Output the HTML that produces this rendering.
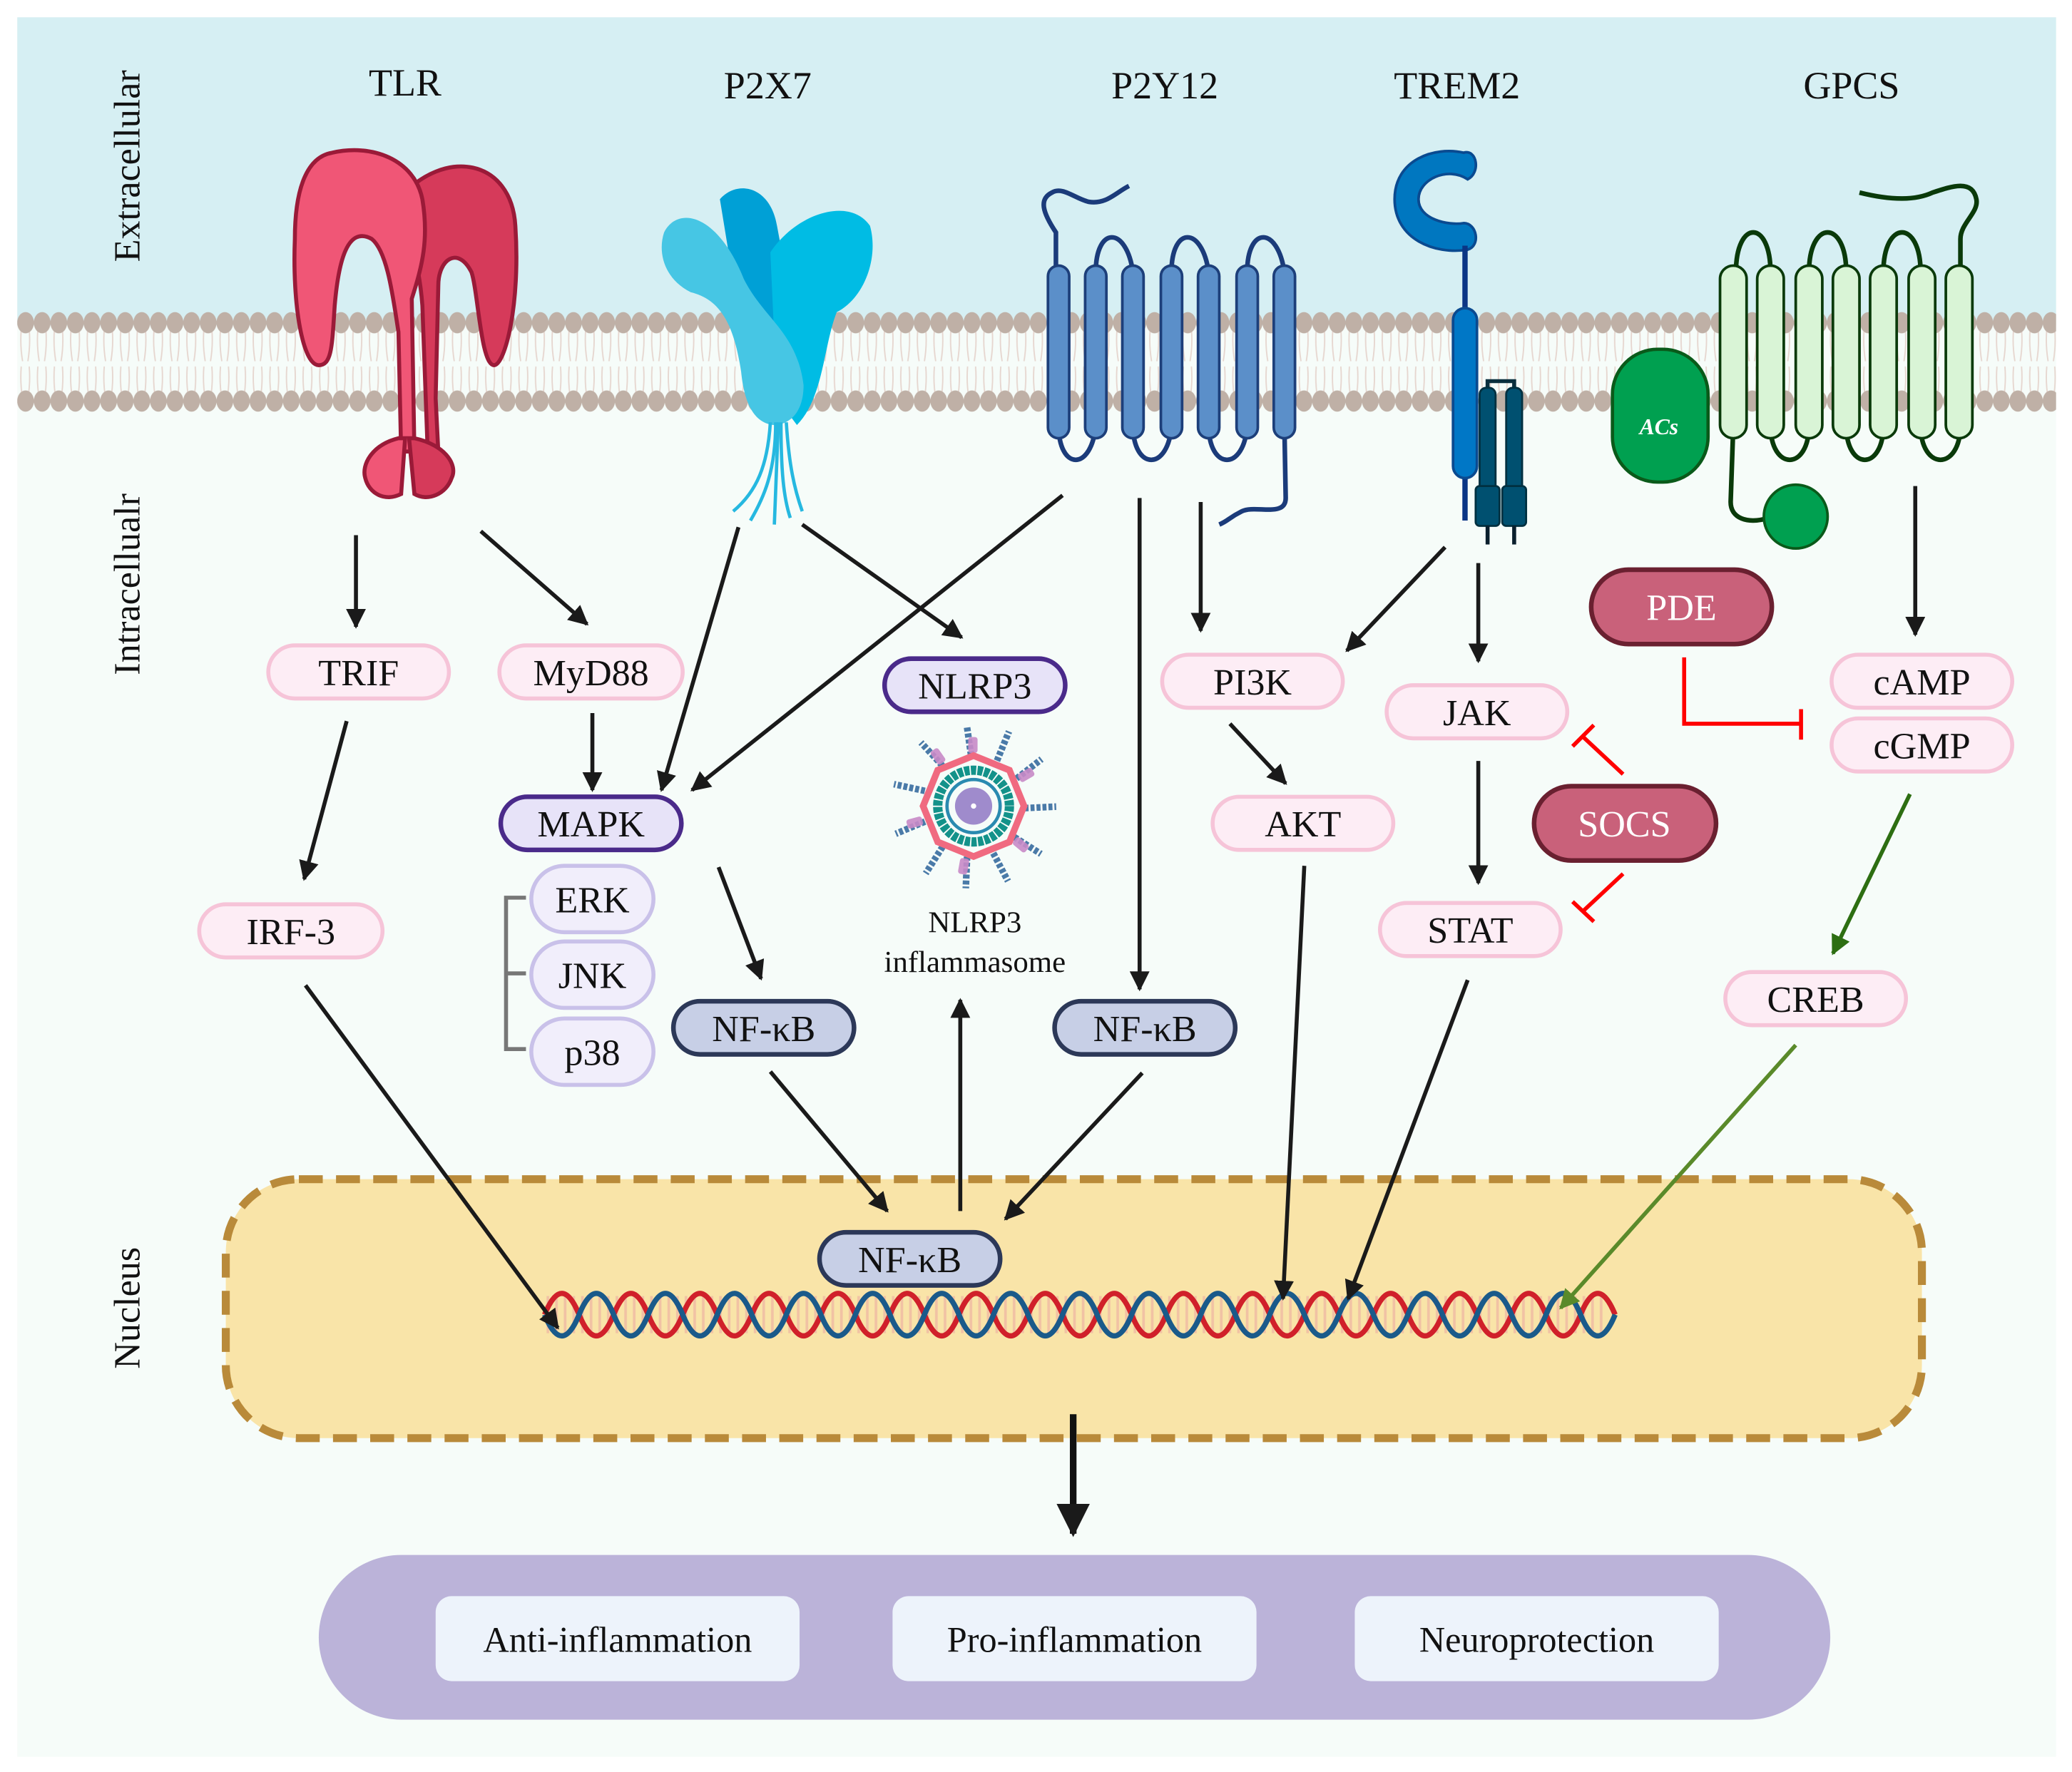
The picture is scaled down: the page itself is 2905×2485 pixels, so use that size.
<!DOCTYPE html>
<html><head><meta charset="utf-8"><style>
html,body{margin:0;padding:0;background:#fff}
svg{display:block}
text{font-family:"Liberation Serif",serif}
</style></head><body>
<svg width="2905" height="2485" viewBox="0 0 1560 1334.4" xmlns="http://www.w3.org/2000/svg" font-family="Liberation Serif, serif">
<defs>
<pattern id="heads1" x="13" y="233" width="12.5" height="20" patternUnits="userSpaceOnUse">
<ellipse cx="6.25" cy="10" rx="6.3" ry="8" fill="#bfb0a6"/></pattern>
<pattern id="heads2" x="13" y="292" width="12.5" height="20" patternUnits="userSpaceOnUse">
<ellipse cx="6.25" cy="10" rx="6.3" ry="8" fill="#bfb0a6"/></pattern>
<pattern id="tails" x="13" y="248" width="12.5" height="52" patternUnits="userSpaceOnUse">
<path d="M3,0 Q2,12 4,24 M9,0 Q10,12 8,24 M3,28 Q2,40 4,52 M9,28 Q10,40 8,52" stroke="#e6d6cf" stroke-width="1" fill="none"/></pattern>
<pattern id="rungs" x="0" y="0" width="6.5" height="40" patternUnits="userSpaceOnUse">
<rect x="2" y="0" width="2" height="40" fill="#e8a0a0"/></pattern>
<marker id="ah" viewBox="0 0 10 10" refX="9" refY="5" markerWidth="5" markerHeight="5" orient="auto"><path d="M0,0 L10,5 L0,10z" fill="#1a1a1a"/></marker>
<marker id="ahg" viewBox="0 0 10 10" refX="9" refY="5" markerWidth="5" markerHeight="5" orient="auto"><path d="M0,0 L10,5 L0,10z" fill="#2d6e12"/></marker>
<marker id="ahg2" viewBox="0 0 10 10" refX="9" refY="5" markerWidth="5" markerHeight="5" orient="auto"><path d="M0,0 L10,5 L0,10z" fill="#5a8a2a"/></marker>
</defs>
<rect x="13" y="13" width="1535" height="1310" fill="#f6fcf9"/>
<rect x="13" y="13" width="1535" height="232" fill="#d6eff3"/>
<!-- membrane -->
<rect x="13" y="248" width="1535" height="52" fill="url(#tails)"/>
<rect x="13" y="233" width="1535" height="20" fill="url(#heads1)"/>
<rect x="13" y="292" width="1535" height="20" fill="url(#heads2)"/>

<!-- side labels -->
<g font-size="28" fill="#111">
<text transform="translate(105,125) rotate(-90)" text-anchor="middle">Extracellular</text>
<text transform="translate(105,440) rotate(-90)" text-anchor="middle">Intracellualr</text>
<text transform="translate(105,985) rotate(-90)" text-anchor="middle">Nucleus</text>
</g>
<g font-size="29" fill="#111" text-anchor="middle">
<text x="305" y="72">TLR</text><text x="578" y="74">P2X7</text><text x="877" y="74">P2Y12</text><text x="1097" y="74">TREM2</text><text x="1394" y="74">GPCS</text>
</g>

<!-- TLR -->
<g stroke="#9a1a38" stroke-width="3">
<path d="M300,150 C335,110 385,120 388,170 C392,230 380,275 372,275 C362,275 360,220 355,205 C345,185 330,195 330,215 L328,300 L330,340 L322,340 L318,230 C315,190 305,175 300,150z" fill="#d63a5a"/>
<path d="M250,115 C280,108 312,120 318,150 C323,180 318,200 310,225 L312,340 L302,340 L300,250 C296,225 292,190 280,180 C262,170 255,195 252,230 C250,260 250,275 240,275 C228,275 220,230 222,180 C222,140 232,118 250,115z" fill="#f05676"/>
<path d="M300,330 C280,335 272,350 275,360 C278,372 290,378 302,372 L305,330z" fill="#f05676"/>
<path d="M312,330 C335,335 345,350 340,360 C336,372 322,378 312,372 L308,330z" fill="#d63a5a"/>
</g>

<!-- P2X7 -->
<g>
<path d="M542,150 C555,135 580,140 585,170 L598,240 L590,300 L560,260z" fill="#00a0d6"/>
<path d="M580,190 C600,160 640,148 655,170 C662,195 650,225 630,235 C620,260 620,300 600,320 L585,300z" fill="#00bce4"/>
<path d="M500,175 C510,155 540,160 560,210 C575,240 600,250 605,290 C605,310 595,320 582,320 C566,318 560,300 558,280 C552,240 540,225 520,220 C500,210 495,190 500,175z" fill="#46c6e4"/>
<g stroke="#26b8e0" stroke-width="2.5" fill="none">
<path d="M580,318 C578,350 570,370 552,385"/><path d="M584,318 C584,355 575,375 565,392"/><path d="M588,318 C588,355 590,375 595,390"/><path d="M592,318 C594,350 598,368 604,385"/><path d="M586,318 L583,395"/>
</g></g>

<!-- P2Y12 -->
<g stroke="#1b3b7a" stroke-width="3.5" fill="none">
<path d="M795,205 L795,175 C785,160 782,150 792,145 C800,140 810,150 820,152 C833,154 840,145 850,140"/>
<path d="M825,205 C825,170 848,170 853,205 M882,205 C882,170 905,170 910,205 M939,205 C939,170 962,170 967,205"/>
<path d="M797,320 C797,355 822,355 825,320 M853,320 C853,355 880,355 882,320 M910,320 C910,355 937,355 939,320"/>
<path d="M967,320 L968,375 C968,390 945,380 935,385 C925,390 925,392 918,395"/>
</g>
<g fill="#5b8fc9" stroke="#1d3f7a" stroke-width="2">
<rect x="789" y="200" width="16" height="130" rx="8"/><rect x="817" y="200" width="16" height="130" rx="8"/><rect x="845" y="200" width="16" height="130" rx="8"/><rect x="874" y="200" width="16" height="130" rx="8"/><rect x="902" y="200" width="16" height="130" rx="8"/><rect x="931" y="200" width="16" height="130" rx="8"/><rect x="959" y="200" width="16" height="130" rx="8"/>
</g>

<!-- TREM2 -->
<g>
<path d="M1102,115 C1112,112 1115,130 1105,135 C1090,125 1068,135 1068,150 C1068,165 1090,170 1102,168 C1112,168 1115,185 1105,188 C1080,192 1050,180 1050,150 C1050,120 1080,110 1102,115z" fill="#0077c0" stroke="#0a4a90" stroke-width="2"/>
<line x1="1103" y1="185" x2="1103" y2="392" stroke="#0a3585" stroke-width="4"/>
<rect x="1094" y="232" width="18" height="128" rx="9" fill="#0077c6" stroke="#0a4a90" stroke-width="2"/>
<path d="M1120,295 L1120,287 L1140,287 L1140,295" stroke="#0a2f3d" stroke-width="3" fill="none"/>
<rect x="1114" y="292" width="12" height="80" rx="5" fill="#005070" stroke="#003040" stroke-width="1.5"/>
<rect x="1134" y="292" width="12" height="80" rx="5" fill="#005070" stroke="#003040" stroke-width="1.5"/>
<rect x="1111" y="366" width="18" height="30" rx="3" fill="#005070" stroke="#003040" stroke-width="1.5"/>
<rect x="1131" y="366" width="18" height="30" rx="3" fill="#005070" stroke="#003040" stroke-width="1.5"/>
<line x1="1120" y1="396" x2="1120" y2="410" stroke="#0a1f2d" stroke-width="3"/>
<line x1="1140" y1="396" x2="1140" y2="410" stroke="#0a1f2d" stroke-width="3"/>
</g>

<!-- GPCS -->
<g stroke="#0a3a0a" stroke-width="3.5" fill="none">
<path d="M1307,205 C1307,165 1333,165 1333,205 M1362,205 C1362,165 1390,165 1390,205 M1418,205 C1418,165 1446,165 1446,205"/>
<path d="M1476,205 L1476,180 C1476,168 1490,160 1488,150 C1485,135 1470,140 1455,145 C1440,152 1420,150 1400,145"/>
<path d="M1333,320 C1333,355 1362,355 1362,320 M1390,320 C1390,355 1418,355 1418,320 M1446,320 C1446,355 1476,355 1476,320"/>
<path d="M1305,320 L1303,378 C1303,390 1315,395 1332,390"/>
</g>
<g fill="#d9f4d6" stroke="#0a3a0a" stroke-width="2">
<rect x="1295" y="200" width="20" height="130" rx="10"/><rect x="1323" y="200" width="20" height="130" rx="10"/><rect x="1352" y="200" width="20" height="130" rx="10"/><rect x="1380" y="200" width="20" height="130" rx="10"/><rect x="1408" y="200" width="20" height="130" rx="10"/><rect x="1437" y="200" width="20" height="130" rx="10"/><rect x="1465" y="200" width="20" height="130" rx="10"/>
</g>
<rect x="1214" y="263" width="72" height="100" rx="34" fill="#00a050" stroke="#0a5a1a" stroke-width="2.5"/>
<text x="1249" y="327" font-size="17" font-style="italic" font-weight="bold" fill="#fff" text-anchor="middle">ACs</text>
<ellipse cx="1352" cy="389" rx="24" ry="24" fill="#00a050" stroke="#0a5a1a" stroke-width="2"/>

<!-- NLRP3 inflammasome -->
<g transform="translate(733,607)">
<g stroke="#4a7aa8" stroke-width="5" stroke-dasharray="3 1.5">
<line x1="0" y1="-25" x2="-5" y2="-60"/><line x1="0" y1="-25" x2="-5" y2="-62" transform="rotate(30)"/><line x1="0" y1="-25" x2="-5" y2="-62" transform="rotate(60)"/><line x1="0" y1="-25" x2="-5" y2="-62" transform="rotate(95)"/><line x1="0" y1="-25" x2="-5" y2="-62" transform="rotate(130)"/><line x1="0" y1="-25" x2="-5" y2="-62" transform="rotate(160)"/><line x1="0" y1="-25" x2="-5" y2="-62" transform="rotate(190)"/><line x1="0" y1="-25" x2="-5" y2="-62" transform="rotate(220)"/><line x1="0" y1="-25" x2="-5" y2="-62" transform="rotate(255)"/><line x1="0" y1="-25" x2="-5" y2="-62" transform="rotate(290)"/><line x1="0" y1="-25" x2="-5" y2="-62" transform="rotate(325)"/>
</g>
<g fill="#c88ac8" opacity="0.9">
<rect x="-4" y="-52" width="7" height="12" rx="2"/><rect x="-4" y="-52" width="7" height="12" rx="2" transform="rotate(60)"/><rect x="-4" y="-52" width="7" height="12" rx="2" transform="rotate(130)"/><rect x="-4" y="-52" width="7" height="12" rx="2" transform="rotate(190)"/><rect x="-4" y="-52" width="7" height="12" rx="2" transform="rotate(255)"/><rect x="-4" y="-52" width="7" height="12" rx="2" transform="rotate(325)"/>
</g>
<polygon points="0,-38 27,-27 38,0 27,27 0,38 -27,27 -38,0 -27,-27" fill="#f6fcf9" stroke="#f06a80" stroke-width="5"/>
<circle r="27" fill="none" stroke="#13928a" stroke-width="7" stroke-dasharray="4 1"/>
<circle r="20" fill="#f6fcf9" stroke="#2a8ab0" stroke-width="2.5"/>
<circle r="14" fill="#8a6ec0" opacity="0.8"/>
<circle r="2" fill="#fff"/>
</g>
<text x="734" y="702" font-size="23" text-anchor="middle" fill="#111">NLRP3</text>
<text x="734" y="732" font-size="23" text-anchor="middle" fill="#111">inflammasome</text>

<!-- Nucleus -->
<rect x="170" y="888" width="1277" height="195" rx="55" fill="#f9e4a8" stroke="#b98a3a" stroke-width="6" stroke-dasharray="18 10"/>
<rect x="410" y="976" width="798" height="28" fill="url(#rungs)" opacity="0.5"/>
<path d="M410,990 q13,-32 26,0 t26,0 t26,0 t26,0 t26,0 t26,0 t26,0 t26,0 t26,0 t26,0 t26,0 t26,0 t26,0 t26,0 t26,0 t26,0 t26,0 t26,0 t26,0 t26,0 t26,0 t26,0 t26,0 t26,0 t26,0 t26,0 t26,0 t26,0 t26,0 t26,0 t26,0" stroke="#d0202a" stroke-width="4" fill="none"/>
<path d="M410,990 q13,32 26,0 t26,0 t26,0 t26,0 t26,0 t26,0 t26,0 t26,0 t26,0 t26,0 t26,0 t26,0 t26,0 t26,0 t26,0 t26,0 t26,0 t26,0 t26,0 t26,0 t26,0 t26,0 t26,0 t26,0 t26,0 t26,0 t26,0 t26,0 t26,0 t26,0 t26,0" stroke="#1a5a8a" stroke-width="4" fill="none"/>

<!-- arrows -->
<g stroke="#1a1a1a" stroke-width="3" fill="none" marker-end="url(#ah)">
<line x1="268" y1="403" x2="268" y2="472"/>
<line x1="362" y1="400" x2="442" y2="470"/>
<line x1="446" y1="537" x2="446" y2="595"/>
<line x1="261" y1="543" x2="229" y2="662"/>
<line x1="556" y1="397" x2="498" y2="595"/>
<line x1="800" y1="373" x2="521" y2="595"/>
<line x1="604" y1="395" x2="724" y2="480"/>
<line x1="858" y1="375" x2="858" y2="745"/>
<line x1="904" y1="378" x2="904" y2="475"/>
<line x1="926" y1="545" x2="968" y2="590"/>
<line x1="1088" y1="412" x2="1014" y2="490"/>
<line x1="1113" y1="424" x2="1113" y2="498"/>
<line x1="1113" y1="573" x2="1113" y2="665"/>
<line x1="1442" y1="366" x2="1442" y2="478"/>
<line x1="541" y1="653" x2="573" y2="737"/>
<line x1="230" y1="742" x2="420" y2="1000"/>
<line x1="580" y1="807" x2="668" y2="912"/>
<line x1="860" y1="808" x2="757" y2="918"/>
<line x1="723" y1="912" x2="723" y2="753"/>
<line x1="982" y1="652" x2="966" y2="978"/>
<line x1="1105" y1="738" x2="1015" y2="978"/>
</g>
<line x1="1438" y1="598" x2="1380" y2="718" stroke="#2d6e12" stroke-width="3" marker-end="url(#ahg)"/>
<line x1="1352" y1="787" x2="1175" y2="985" stroke="#5a8a2a" stroke-width="3" marker-end="url(#ahg2)"/>
<line x1="808" y1="1065" x2="808" y2="1155" stroke="#111" stroke-width="5" marker-end="url(#ah)"/>
<!-- inhibitors -->
<g stroke="#f00" stroke-width="3" fill="none">
<path d="M1268,495 L1268,545 L1356,545 M1356,534 L1356,557"/>
<path d="M1222,583 L1192,555 M1184,562 L1200,546"/>
<path d="M1222,658 L1192,686 M1184,679 L1200,694"/>
</g>
<!-- bracket -->
<path d="M396,676 L381,676 L381,790 L396,790 M381,733 L396,733" stroke="#777" stroke-width="3" fill="none"/>

<!-- nodes -->
<g font-size="28" text-anchor="middle" fill="#111">
<g fill="#fdedf5" stroke="#f6c4d8" stroke-width="3">
<rect x="202" y="486" width="136" height="40" rx="20"/>
<rect x="376" y="486" width="138" height="40" rx="20"/>
<rect x="150" y="681" width="138" height="40" rx="20"/>
<rect x="875" y="493" width="136" height="40" rx="20"/>
<rect x="913" y="600" width="136" height="40" rx="20"/>
<rect x="1044" y="516" width="136" height="40" rx="20"/>
<rect x="1039" y="680" width="136" height="40" rx="20"/>
<rect x="1379" y="493" width="136" height="40" rx="20"/>
<rect x="1379" y="541" width="136" height="40" rx="20"/>
<rect x="1299" y="732" width="136" height="40" rx="20"/>
</g>
<g fill="#e7e3f8" stroke="#4a2a8a" stroke-width="3.5">
<rect x="666" y="496" width="136" height="40" rx="20"/>
<rect x="377" y="600" width="136" height="40" rx="20"/>
</g>
<g fill="#f1eefb" stroke="#c9c1e9" stroke-width="3">
<rect x="400" y="652" width="92" height="50" rx="25"/>
<rect x="400" y="709" width="92" height="50" rx="25"/>
<rect x="400" y="767" width="92" height="50" rx="25"/>
</g>
<g fill="#c7cfe6" stroke="#2c3858" stroke-width="3.5">
<rect x="507" y="754" width="136" height="40" rx="20"/>
<rect x="794" y="754" width="136" height="40" rx="20"/>
<rect x="617" y="928" width="136" height="40" rx="20"/>
</g>
<g fill="#c9617a" stroke="#6a2030" stroke-width="3.5">
<rect x="1198" y="429" width="136" height="56" rx="28"/>
<rect x="1155" y="592" width="137" height="56" rx="28"/>
</g>
<text x="270" y="516">TRIF</text>
<text x="445" y="516">MyD88</text>
<text x="219" y="711">IRF-3</text>
<text x="943" y="523">PI3K</text>
<text x="981" y="630">AKT</text>
<text x="1112" y="546">JAK</text>
<text x="1107" y="710">STAT</text>
<text x="1447" y="523">cAMP</text>
<text x="1447" y="571">cGMP</text>
<text x="1367" y="762">CREB</text>
<text x="734" y="526">NLRP3</text>
<text x="445" y="630">MAPK</text>
<text x="446" y="687">ERK</text>
<text x="446" y="744">JNK</text>
<text x="446" y="802">p38</text>
<text x="575" y="784">NF-κB</text>
<text x="862" y="784">NF-κB</text>
<text x="685" y="958">NF-κB</text>
<text x="1266" y="467" fill="#fff">PDE</text>
<text x="1223" y="630" fill="#fff">SOCS</text>
</g>

<!-- outcomes -->
<rect x="240" y="1171" width="1138" height="124" rx="62" fill="#bbb3d9"/>
<g fill="#edf3fb">
<rect x="328" y="1202" width="274" height="64" rx="12"/>
<rect x="672" y="1202" width="274" height="64" rx="12"/>
<rect x="1020" y="1202" width="274" height="64" rx="12"/>
</g>
<g font-size="27" text-anchor="middle" fill="#111">
<text x="465" y="1244">Anti-inflammation</text>
<text x="809" y="1244">Pro-inflammation</text>
<text x="1157" y="1244">Neuroprotection</text>
</g>
</svg>
</body></html>
